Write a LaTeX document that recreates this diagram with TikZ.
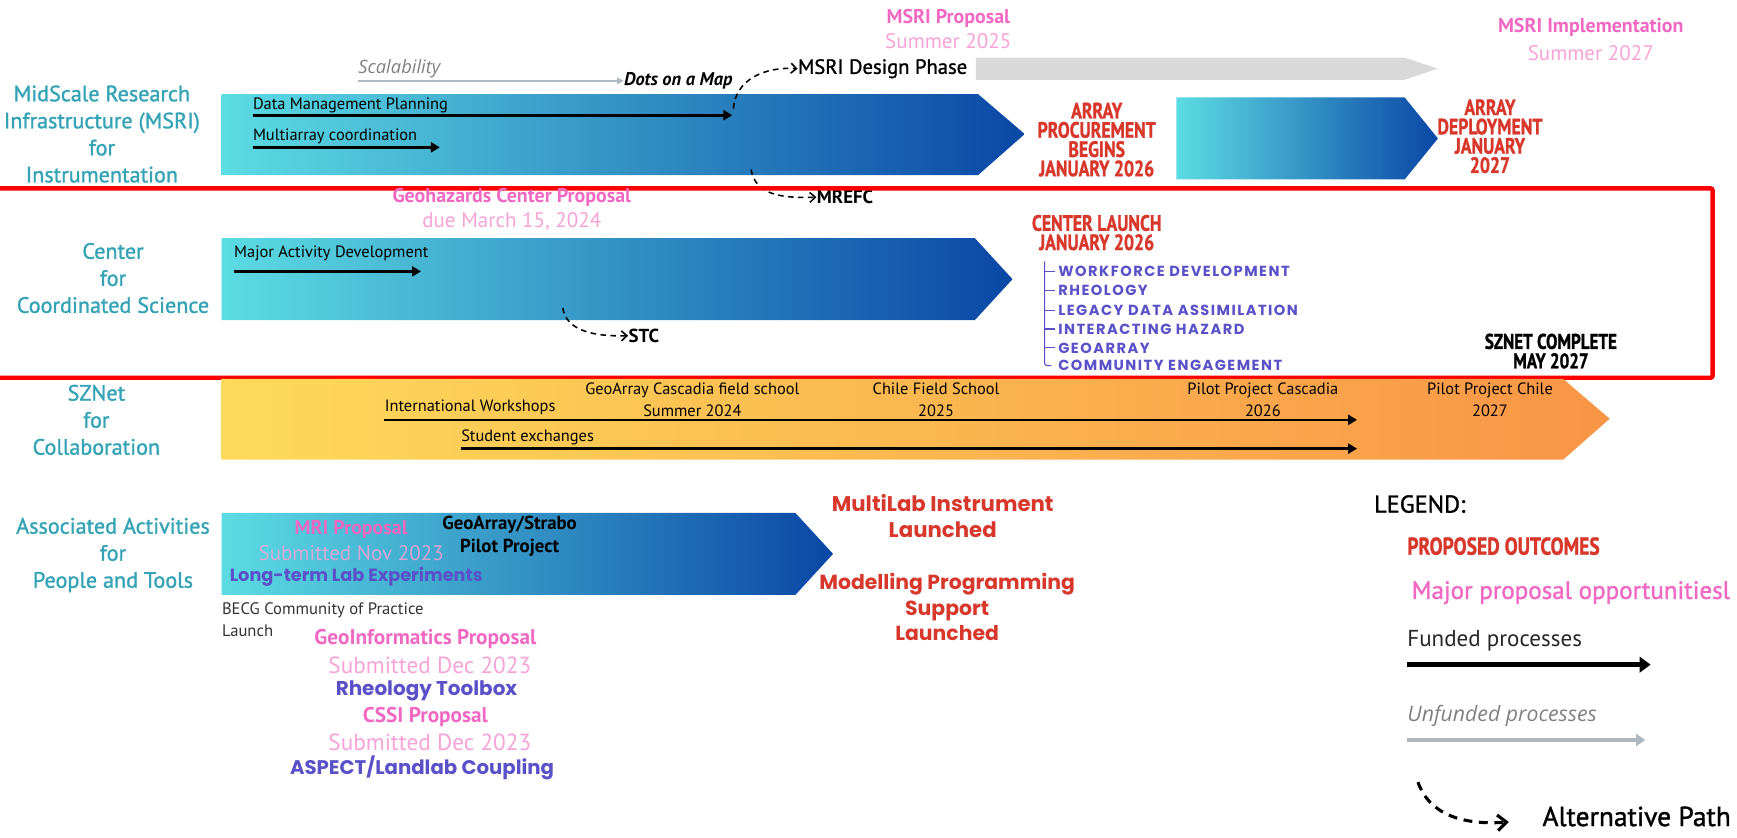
\documentclass[tikz,border=0pt]{standalone}
\usepackage{fontspec}
\setmainfont{PT Sans}
\newfontfamily\condf[FakeStretch=0.8,BoldFeatures={FakeBold=1.2}]{PT Sans}
\newfontfamily\medf[FakeBold=1.3]{PT Sans}
\newfontfamily\itf{Open Sans}
\newfontfamily\chunky{Poppins}
\newfontfamily\widef[LetterSpace=10]{Poppins}
\usetikzlibrary{arrows.meta}
\definecolor{rowlbl}{HTML}{34A3B5}
\definecolor{pinkA}{HTML}{F068C2}
\definecolor{pinkB}{HTML}{F7A3D8}
\definecolor{outred}{HTML}{D8382C}
\definecolor{listblue}{HTML}{5A50C8}
\definecolor{cyanL}{HTML}{5CDCE3}
\definecolor{blueR}{HTML}{0A47A6}
\definecolor{yelL}{HTML}{FDDA5A}
\definecolor{orR}{HTML}{F99546}
\definecolor{greybar}{HTML}{D9D9D9}
\definecolor{unfund}{HTML}{AEB8C0}
\definecolor{greytext}{HTML}{808080}
\definecolor{frame}{HTML}{FF0000}
\tikzset{
  rowlabel/.style={text=rowlbl, align=center, inner sep=0, font=\medf\fontsize{10}{12.2}\selectfont},
  intext/.style={anchor=west, inner sep=0, font=\fontsize{7.4}{8}\selectfont},
  ctext/.style={inner sep=0, align=center, font=\fontsize{7.4}{10}\selectfont},
  outcome/.style={text=outred, align=center, inner sep=0, font=\condf\bfseries\fontsize{10}{8.7}\selectfont},
  propA/.style={inner sep=0, align=center, text=pinkA, font=\bfseries\fontsize{9}{10.5}\selectfont},
  propB/.style={inner sep=0, align=center, text=pinkB, font=\fontsize{9.5}{10.5}\selectfont},
  chunk/.style={inner sep=0, align=center, font=\chunky\bfseries\fontsize{9}{11.5}\selectfont},
  listitem/.style={anchor=west, inner sep=0, text=listblue, font=\widef\bfseries\fontsize{6.6}{7}\selectfont},
  funded/.style={line width=1.2pt, -{Triangle[length=4pt,width=4.5pt]}},
  altpath/.style={line width=0.7pt, dash pattern=on 2.5pt off 2pt, -{Straight Barb[length=2.5pt,width=4.5pt]}},
  treeline/.style={listblue, line width=0.5pt},
  bolds/.style={anchor=west, inner sep=0, font=\bfseries\fontsize{8.5}{9}\selectfont},
}
\begin{document}
\begin{tikzpicture}[x=0.5pt, y=-0.5pt]
\useasboundingbox (0,0) rectangle (1568,756);

% ---------- Row 1: MSRI ----------
\node[rowlabel] (lbl1) at (92,121) {MidScale Research\\Infrastructure (MSRI)\\for\\Instrumentation};
\shade[left color=cyanL, right color=blueR] (200,85) -- (883,85) -- (925,121) -- (883,158) -- (200,158) -- cycle;
\fill[greybar] (881,52) -- (1268,52) -- (1298,62) -- (1268,72) -- (881,72) -- cycle;
\shade[left color=cyanL, right color=blueR] (1062,88) -- (1268,88) -- (1298,125) -- (1268,162) -- (1062,162) -- cycle;

\node[inner sep=0, anchor=south west, text=greytext, font=\itf\itshape\fontsize{8.3}{10}\selectfont] (scal) at (323,71) {Scalability};
\coordinate (scalstart) at (323,73);
\node[anchor=west, inner sep=0, font=\bfseries\itshape\fontsize{8.3}{9}\selectfont] (dots) at (563,73) {Dots on a Map};
\draw[unfund, line width=0.9pt, -{Triangle[length=3pt,width=3pt]}] (scalstart) -- (dots.west);
\node[anchor=west, inner sep=0, font=\medf\fontsize{9.3}{11}\selectfont] (design) at (720,62) {MSRI Design Phase};
\coordinate (alt1) at (662,98);
\draw[altpath] (alt1) .. controls (664,72) and (690,60) .. (design.west);

\node[propA] (msriprop) at (856,17) {MSRI Proposal};
\node[propB] (msriprop2) at (856,37) {Summer 2025};
\node[propA] (msriimp) at (1436,25) {MSRI Implementation};
\node[propB] (msriimp2) at (1436,48) {Summer 2027};

\node[intext] (dmp) at (228,95) {Data Management Planning};
\coordinate (dmpS) at (228,104);
\coordinate (dmpE) at (661,104);
\draw[funded] (dmpS) -- (dmpE);
\node[intext] (mac) at (228,123) {Multiarray coordination};
\coordinate (macS) at (228,133);
\coordinate (macE) at (397,133);
\draw[funded] (macS) -- (macE);

\node[bolds] (mrefc) at (737,178) {MREFC};
\coordinate (alt2) at (678,153);
\draw[altpath] (alt2) .. controls (682,176) and (705,179) .. (mrefc.west);

\node[outcome] (proc) at (990,126) {ARRAY\\PROCUREMENT\\BEGINS\\JANUARY 2026};
\node[outcome] (depl) at (1345,123) {ARRAY\\DEPLOYMENT\\JANUARY\\2027};

% ---------- Row 2: Center ----------
\draw[frame, line width=2pt, rounded corners=1pt] (-6,170) rectangle (1546,341);
\node[propA] (geoh) at (462,178) {Geohazards Center Proposal};
\node[propB] (geoh2) at (462,200) {due March 15, 2024};
\node[rowlabel] (lbl2) at (102,251) {Center\\for\\Coordinated Science};
\shade[left color=cyanL, right color=blueR] (200,215) -- (880,215) -- (914,252) -- (880,289) -- (200,289) -- cycle;
\node[intext] (mad) at (211,229) {Major Activity Development};
\coordinate (madS) at (211,245);
\coordinate (madE) at (380,245);
\draw[funded] (madS) -- (madE);
\node[bolds] (stc) at (567,303) {STC};
\coordinate (alt3) at (508,278);
\draw[altpath] (alt3) .. controls (511,298) and (535,304) .. (stc.west);

\node[outcome] (launch) at (990,210) {CENTER LAUNCH\\JANUARY 2026};
\node[listitem] (l1) at (955,245) {WORKFORCE DEVELOPMENT};
\node[listitem] (l2) at (955,262) {RHEOLOGY};
\node[listitem] (l3) at (955,280) {LEGACY DATA ASSIMILATION};
\node[listitem] (l4) at (955,297) {INTERACTING HAZARD};
\node[listitem] (l5) at (955,314) {GEOARRAY};
\node[listitem] (l6) at (955,330) {COMMUNITY ENGAGEMENT};
\coordinate (treetop) at (943,236);
\draw[treeline] (treetop) -- (943,328) to[out=-90,in=180] ([xshift=-3pt]l6.west);
\foreach \i in {1,...,5} {\draw[treeline] (943,0 |- l\i.west) -- ([xshift=-1.5pt]l\i.west);}

\node[inner sep=0, align=center, font=\condf\bfseries\fontsize{9.6}{8.8}\selectfont] (sznet) at (1400,317) {SZNET COMPLETE\\MAY 2027};

% ---------- Row 3: SZNet ----------
\node[rowlabel] (lbl3) at (87,379) {SZNet\\for\\Collaboration};
\shade[left color=yelL, right color=orR] (200,342) -- (1411,342) -- (1453,378) -- (1411,415) -- (200,415) -- cycle;
\node[ctext] (gc) at (625,361) {GeoArray Cascadia field school\\Summer 2024};
\node[ctext] (cf) at (845,361) {Chile Field School\\2025};
\node[ctext] (pc) at (1140,361) {Pilot Project Cascadia\\2026};
\node[ctext] (pch) at (1345,361) {Pilot Project Chile\\2027};
\node[intext] (iw) at (347,368) {International Workshops};
\coordinate (iwS) at (347,379);
\coordinate (iwE) at (1225,379);
\draw[funded] (iwS) -- (iwE);
\node[intext] (se) at (416,395) {Student exchanges};
\coordinate (seS) at (416,405);
\coordinate (seE) at (1225,405);
\draw[funded] (seS) -- (seE);

% ---------- Row 4: Associated activities ----------
\node[rowlabel] (lbl4) at (102,501) {Associated Activities\\for\\People and Tools};
\shade[left color=cyanL, right color=blueR] (200,463) -- (718,463) -- (752,500) -- (718,537) -- (200,537) -- cycle;
\node[propA] (mri) at (317,478) {MRI Proposal};
\node[propB, opacity=0.8] (mri2) at (317,499) {Submitted Nov 2023};
\node[inner sep=0, align=center, font=\bfseries\fontsize{8.5}{10}\selectfont] (strabo) at (460,484) {GeoArray/Strabo\\Pilot Project};
\node[chunk, text=listblue, anchor=west, font=\chunky\bfseries\fontsize{8}{9}\selectfont] (ltl) at (207,521) {Long-term Lab Experiments};
\node[inner sep=0, anchor=west, align=left, text=black!80, font=\fontsize{7.5}{10}\selectfont] (becg) at (200,559) {BECG Community of Practice\\Launch};

\node[propA, font=\bfseries\fontsize{9.6}{10.5}\selectfont] (gi) at (384,577) {GeoInformatics Proposal};
\node[propB, font=\fontsize{10.5}{10.5}\selectfont] (gi2) at (388,601) {Submitted Dec 2023};
\node[chunk, text=listblue] (rt) at (385,624) {Rheology Toolbox};
\node[propA, font=\bfseries\fontsize{9.6}{10.5}\selectfont] (cssi) at (384,647) {CSSI Proposal};
\node[propB, font=\fontsize{10.5}{10.5}\selectfont] (cssi2) at (388,670) {Submitted Dec 2023};
\node[chunk, text=listblue, font=\chunky\bfseries\fontsize{8.9}{10}\selectfont] (asp) at (381,693) {ASPECT/Landlab Coupling};

\node[chunk, text=outred, font=\chunky\bfseries\fontsize{9.6}{12}\selectfont] (mli) at (851,466) {MultiLab Instrument\\Launched};
\node[chunk, text=outred, font=\chunky\bfseries\fontsize{9.2}{11.5}\selectfont] (mps) at (855,548) {Modelling Programming\\Support\\Launched};

% ---------- Legend ----------
\node[anchor=west, inner sep=0, font=\medf\fontsize{11}{12}\selectfont] (leg) at (1240,455) {LEGEND:};
\node[anchor=west, inner sep=0, text=outred, font=\condf\bfseries\fontsize{11}{12}\selectfont] (lpo) at (1270,493) {PROPOSED OUTCOMES};
\node[anchor=west, inner sep=0, text=pinkA, font=\medf\fontsize{11.3}{12}\selectfont] (lmp) at (1274,535) {Major proposal opportunitiesl};
\node[anchor=west, inner sep=0, text=black!85, font=\fontsize{10.4}{12}\selectfont] (lfp) at (1270,578) {Funded processes};
\coordinate (lfS) at (1270,600);
\coordinate (lfE) at (1490,600);
\draw[line width=2.4pt, -{Triangle[length=5pt,width=7pt]}] (lfS) -- (lfE);
\node[anchor=west, inner sep=0, text=greytext, font=\itf\itshape\fontsize{9.6}{12}\selectfont] (lup) at (1270,646) {Unfunded processes};
\coordinate (luS) at (1270,668);
\coordinate (luE) at (1485,668);
\draw[unfund, line width=1.8pt, -{Triangle[length=4pt,width=5.5pt]}] (luS) -- (luE);
\node[anchor=west, inner sep=0, font=\medf\fontsize{12.4}{13}\selectfont] (lap) at (1392,737) {Alternative Path};
\coordinate (laS) at (1280,706);
\coordinate (laE) at (1362,742);
\draw[line width=1.4pt, dash pattern=on 4pt off 3pt, -{Straight Barb[length=4pt,width=7pt]}] (laS) .. controls (1290,735) and (1320,745) .. (laE);
\end{tikzpicture}
\end{document}
